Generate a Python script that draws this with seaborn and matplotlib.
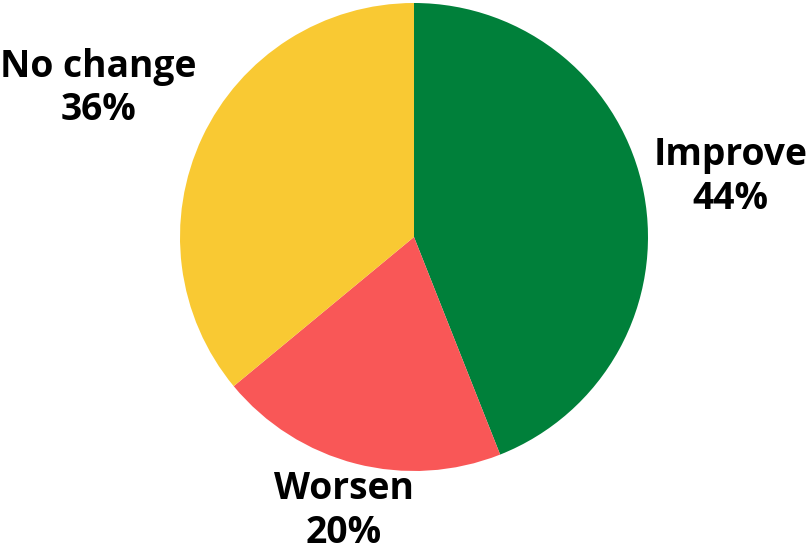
import numpy as np
import matplotlib
matplotlib.use("Agg")
import matplotlib.pyplot as plt
import seaborn as sns

# Survey outcome shares
categories = ["Improve", "Worsen", "No change"]
shares = [44, 20, 36]
colors = ["#00803a", "#f95757", "#f9c933"]

sns.set_theme(style="white")
plt.rcParams["font.family"] = ["Open Sans", "DejaVu Sans"]

W, H = 809, 552
fig = plt.figure(figsize=(W / 100, H / 100), dpi=100)
ax = fig.add_axes([0, 0, 1, 1])

cx, cy, r = 414, H - 237, 234
wedges, _ = ax.pie(shares, colors=colors, startangle=90, counterclock=False,
                   center=(cx, cy), radius=r, frame=True,
                   wedgeprops=dict(linewidth=0))
ax.set_xlim(0, W)
ax.set_ylim(0, H)
ax.set_aspect("equal")
ax.axis("off")

# Label distance (in radii) for each slice
label_dist = [1.376, 1.21, 1.49]
for w, name, val, d in zip(wedges, categories, shares, label_dist):
    mid = np.deg2rad((w.theta1 + w.theta2) / 2)
    x = cx + d * r * np.cos(mid)
    y = cy + d * r * np.sin(mid)
    ax.text(x, y, f"{name}\n{val}%", ha="center", va="center",
            fontsize=26.8, fontweight="bold", color="black", linespacing=1.2)

fig.savefig("out.png", dpi=100)
